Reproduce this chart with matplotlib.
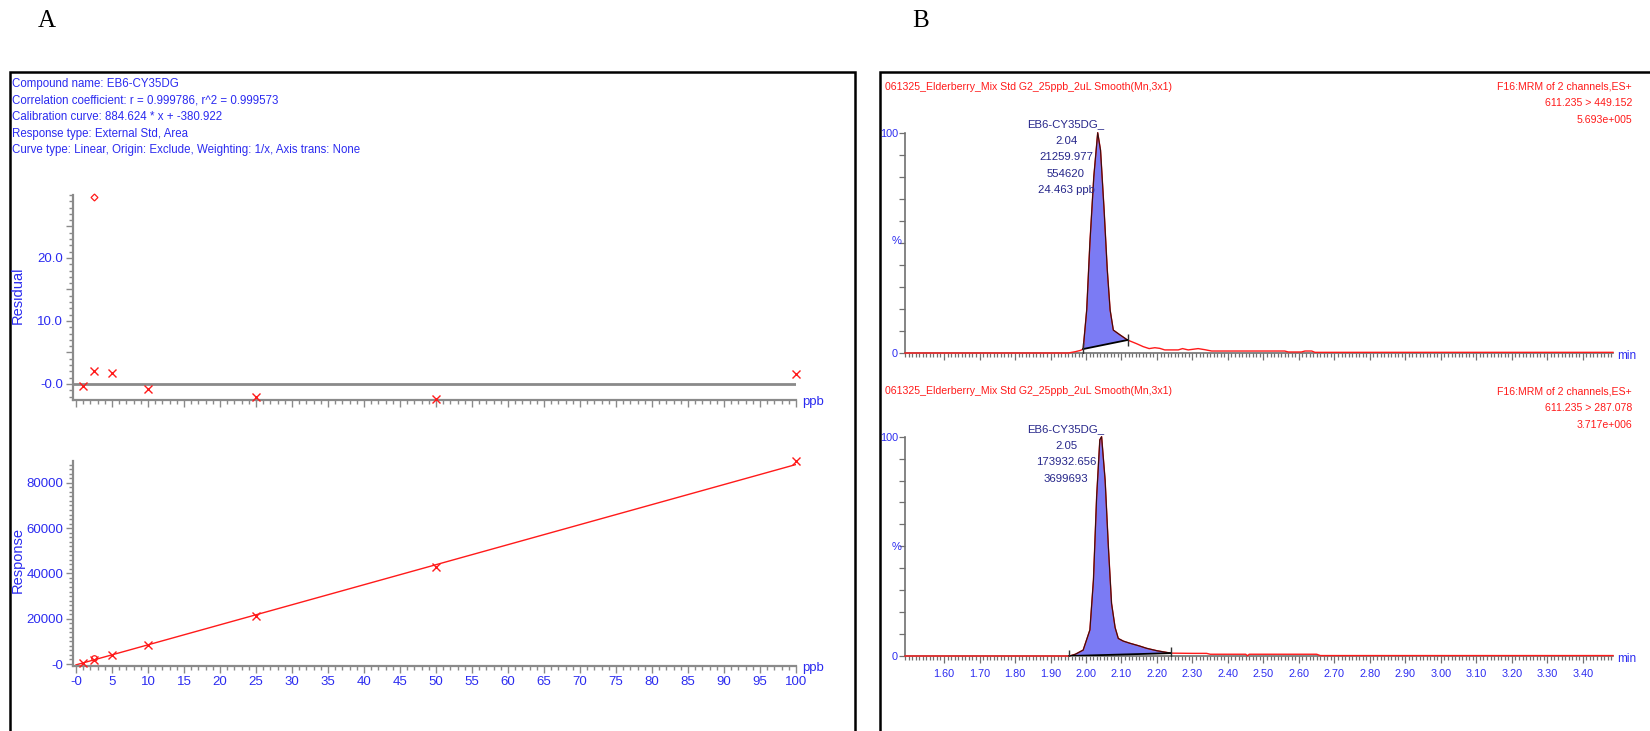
import numpy as np
import matplotlib
matplotlib.use("Agg")
import matplotlib.pyplot as plt
from matplotlib.patches import Rectangle
from matplotlib.ticker import MultipleLocator, FixedLocator, FixedFormatter, NullFormatter

# === DATA ===
# Panel A: calibration standards (ppb), responses and residuals (%)
conc = [1, 2.5, 5, 10, 25, 50, 100]
response = [502, 1875, 4120, 8394, 21290, 42810, 89500]
residual = [-0.3, 2.1, 1.75, -0.8, -2.0, -2.35, 1.6]
excl_conc = [2.5]
excl_response = [2600]
excl_residual = [29.7]
slope, intercept = 884.624, -380.922

header_lines = [
    "Compound name: EB6-CY35DG",
    "Correlation coefficient: r = 0.999786, r^2 = 0.999573",
    "Calibration curve: 884.624 * x + -380.922",
    "Response type: External Std, Area",
    "Curve type: Linear, Origin: Exclude, Weighting: 1/x, Axis trans: None",
]
res_ticks = [0, 5, 10, 15, 20, 25]
res_ticklabels = ["-0.0", "", "10.0", "", "20.0", ""]
resp_ticks = [0, 20000, 40000, 60000, 80000]
resp_ticklabels = ["-0", "20000", "40000", "60000", "80000"]
ppb_ticks = list(range(0, 101, 5))
ppb_ticklabels = ["-0"] + [str(v) for v in range(5, 101, 5)]

# Panel B: chromatogram traces (min, % of max)
top_time = [1.49, 1.95, 1.97, 1.985, 1.992, 2.002, 2.011, 2.022, 2.033, 2.041, 2.051,
            2.060, 2.068, 2.077, 2.096, 2.117, 2.143, 2.161, 2.178, 2.194, 2.208,
            2.222, 2.26, 2.272, 2.288, 2.316, 2.335, 2.354, 2.56, 2.57, 2.607,
            2.617, 2.636, 2.645, 3.485]
top_int = [0, 0, 0.6, 1.2, 1.8, 19.5, 50, 80, 100, 92, 65,
           37.7, 19.5, 10.4, 8.2, 5.9, 4.2, 2.9, 2.0, 2.4, 2.1,
           1.4, 1.4, 2.0, 1.4, 2.0, 1.5, 0.9, 0.9, 0.45, 0.45,
           0.9, 0.9, 0.3, 0.3]
top_peak = (1.992, 2.117)

bot_time = [1.49, 1.953, 1.97, 1.992, 2.011, 2.021, 2.030, 2.039, 2.044, 2.054, 2.063,
            2.072, 2.082, 2.091, 2.105, 2.124, 2.15, 2.171, 2.20, 2.232, 2.239, 2.30,
            2.34, 2.35, 2.45, 2.455, 2.46, 2.65, 2.66, 3.485]
bot_int = [0, 0, 0.8, 2.7, 11.9, 34.7, 72.7, 98.6, 100, 80, 50,
           24, 13, 8, 6.8, 5.8, 4.6, 3.5, 2.4, 1.5, 1.3, 1.2,
           1.2, 0.8, 0.8, 0.1, 0.8, 0.8, 0.2, 0.2]
bot_peak = (1.953, 2.239)

sample_name = "061325_Elderberry_Mix Std G2_25ppb_2uL Smooth(Mn,3x1)"
top_info = ["F16:MRM of 2 channels,ES+", "611.235 > 449.152", "5.693e+005"]
bot_info = ["F16:MRM of 2 channels,ES+", "611.235 > 287.078", "3.717e+006"]
top_label = ["EB6-CY35DG_", "2.04", "21259.977", "554620", "24.463 ppb"]
bot_label = ["EB6-CY35DG_", "2.05", "173932.656", "3699693"]
time_ticks = [round(1.6 + 0.1 * i, 2) for i in range(19)]

# === STYLE ===
plt.rcParams["font.family"] = ["Liberation Sans", "DejaVu Sans"]

BLUE = "#2b2bf0"
NAVY = "#26268a"
RED = "#ff1a1a"
GREY = "#8a8a8a"
FILL = "#7b7bf4"

W, H = 1650, 731
fig = plt.figure(figsize=(W / 100, H / 100), dpi=100)


def px_axes(l, t, r, b):
    """Axes placed by pixel box (left, top, right, bottom)."""
    return fig.add_axes([l / W, 1 - b / H, (r - l) / W, (b - t) / H])


def ftext(x, y, s, **kw):
    fig.text(x / W, 1 - y / H, s, **kw)


# panel frames
fig.add_artist(Rectangle((10 / W, -0.1), 845 / W, 1.1 - 72 / H, transform=fig.transFigure,
                         fill=False, lw=1.8, ec="black"))
fig.add_artist(Rectangle((880 / W, -0.1), 1.0, 1.1 - 72 / H, transform=fig.transFigure,
                         fill=False, lw=1.8, ec="black"))
ftext(47, 21, "A", fontsize=18, family="Liberation Serif", ha="center", va="center")
ftext(921, 21, "B", fontsize=18, family="Liberation Serif", ha="center", va="center")

for i, line in enumerate(header_lines):
    ftext(12, 84 + i * 16.5, line, color=BLUE, fontsize=8.3, va="center")


def style_cal(ax):
    for s in ("top", "right"):
        ax.spines[s].set_visible(False)
    for s in ("left", "bottom"):
        ax.spines[s].set_color(GREY)
        ax.spines[s].set_linewidth(1.6)
    ax.tick_params(which="both", color=GREY, width=1.0, labelcolor=BLUE, labelsize=9.5)
    ax.tick_params(which="major", length=5, pad=2)
    ax.tick_params(which="minor", length=3)
    ax.set_xlim(-0.42, 100)
    ax.xaxis.set_major_locator(FixedLocator(ppb_ticks))
    ax.xaxis.set_minor_locator(MultipleLocator(1))
    ax.patch.set_visible(False)


# residual plot
ax_r = px_axes(73, 195, 796, 400)
style_cal(ax_r)
ax_r.set_ylim(-2.54, 30)
ax_r.yaxis.set_major_locator(FixedLocator(res_ticks))
ax_r.yaxis.set_major_formatter(FixedFormatter(res_ticklabels))
ax_r.yaxis.set_minor_locator(MultipleLocator(1))
ax_r.xaxis.set_major_formatter(NullFormatter())
ax_r.axhline(0, color=GREY, lw=2, zorder=1)
ax_r.plot(conc, residual, "x", color=RED, ms=6, mew=1, clip_on=False, zorder=3)
ax_r.plot(excl_conc, excl_residual, "D", mfc="none", mec=RED, ms=3.5, mew=0.9, clip_on=False)
ftext(18, 295, "Residual", color=BLUE, fontsize=10.5, rotation=90, ha="center", va="center")
ftext(802, 402, "ppb", color=BLUE, fontsize=9.5, va="center")

# response plot
ax_c = px_axes(73, 461, 796, 666)
style_cal(ax_c)
ax_c.set_ylim(-883, 89625)
ax_c.yaxis.set_major_locator(FixedLocator(resp_ticks))
ax_c.yaxis.set_major_formatter(FixedFormatter(resp_ticklabels))
ax_c.yaxis.set_minor_locator(MultipleLocator(2000))
ax_c.xaxis.set_major_formatter(FixedFormatter(ppb_ticklabels))
xs = np.array([0, 100])
ax_c.plot(xs, slope * xs + intercept, color=RED, lw=1, zorder=2)
ax_c.plot(conc, response, "x", color=RED, ms=6, mew=1, clip_on=False, zorder=3)
ax_c.plot(excl_conc, excl_response, "o", mfc="none", mec=RED, ms=4, mew=0.9, clip_on=False)
ftext(18, 560, "Response", color=BLUE, fontsize=10.5, rotation=90, ha="center", va="center")
ftext(802, 668, "ppb", color=BLUE, fontsize=9.5, va="center")


def chromatogram(ax, t, y, peak, show_labels):
    t = np.asarray(t)
    y = np.asarray(y)
    for s in ("top", "right"):
        ax.spines[s].set_visible(False)
    for s in ("left", "bottom"):
        ax.spines[s].set_color("#707070")
        ax.spines[s].set_linewidth(1.2)
    ax.set_xlim(1.49, 3.485)
    ax.set_ylim(0, 100)
    ax.patch.set_visible(False)
    ax.xaxis.set_major_locator(FixedLocator(time_ticks))
    ax.xaxis.set_minor_locator(MultipleLocator(0.01))
    if show_labels:
        ax.xaxis.set_major_formatter(FixedFormatter([f"{v:.2f}" for v in time_ticks]))
    else:
        ax.xaxis.set_major_formatter(NullFormatter())
    ax.yaxis.set_major_locator(FixedLocator([0, 100]))
    ax.yaxis.set_minor_locator(MultipleLocator(10))
    ax.tick_params(which="both", color="#707070", width=0.9, labelcolor=BLUE, labelsize=7.8)
    ax.tick_params(axis="x", which="major", length=5, pad=4.5)
    ax.tick_params(axis="x", which="minor", length=3)
    ax.tick_params(axis="y", which="both", length=4, pad=1)

    inside = (t >= peak[0]) & (t <= peak[1])
    # polygon closes along the straight integration baseline
    ax.fill(t[inside], y[inside], color=FILL, lw=0, zorder=2, clip_on=False)
    ax.plot(t, y, color=RED, lw=1, zorder=3, clip_on=False)
    ax.plot(t[inside], y[inside], color="#301010", lw=0.8, zorder=4, clip_on=False)
    ends_t = [t[inside][0], t[inside][-1]]
    ends_y = [y[inside][0], y[inside][-1]]
    ax.plot(ends_t, ends_y, color="black", lw=1.3, zorder=4)
    ax.plot(ends_t, ends_y, "|", color="#303030", ms=9, mew=1, zorder=4)


ax_t = px_axes(905, 132.7, 1613, 353)
chromatogram(ax_t, top_time, top_int, top_peak, False)
ax_b = px_axes(905, 436.7, 1613, 656)
chromatogram(ax_b, bot_time, bot_int, bot_peak, True)

for y0, info, lab in ((86.5, top_info, top_label), (391.5, bot_info, bot_label)):
    ftext(885, y0, sample_name, color=RED, fontsize=7.6, va="center")
    for i, s in enumerate(info):
        ftext(1632, y0 + i * 16.6, s, color=RED, fontsize=7.6, va="center", ha="right")
    for i, s in enumerate(lab):
        ftext(1066, y0 + 37.5 + i * 16.6, s, color=NAVY, fontsize=8.2, va="center", ha="center")

ftext(897, 241, "%", color=BLUE, fontsize=8, ha="center", va="center")
ftext(897, 547, "%", color=BLUE, fontsize=8, ha="center", va="center")
ftext(1617, 356, "min", color=BLUE, fontsize=8.5, va="center")
ftext(1617, 659, "min", color=BLUE, fontsize=8.5, va="center")

fig.savefig("out.png", dpi=100)
